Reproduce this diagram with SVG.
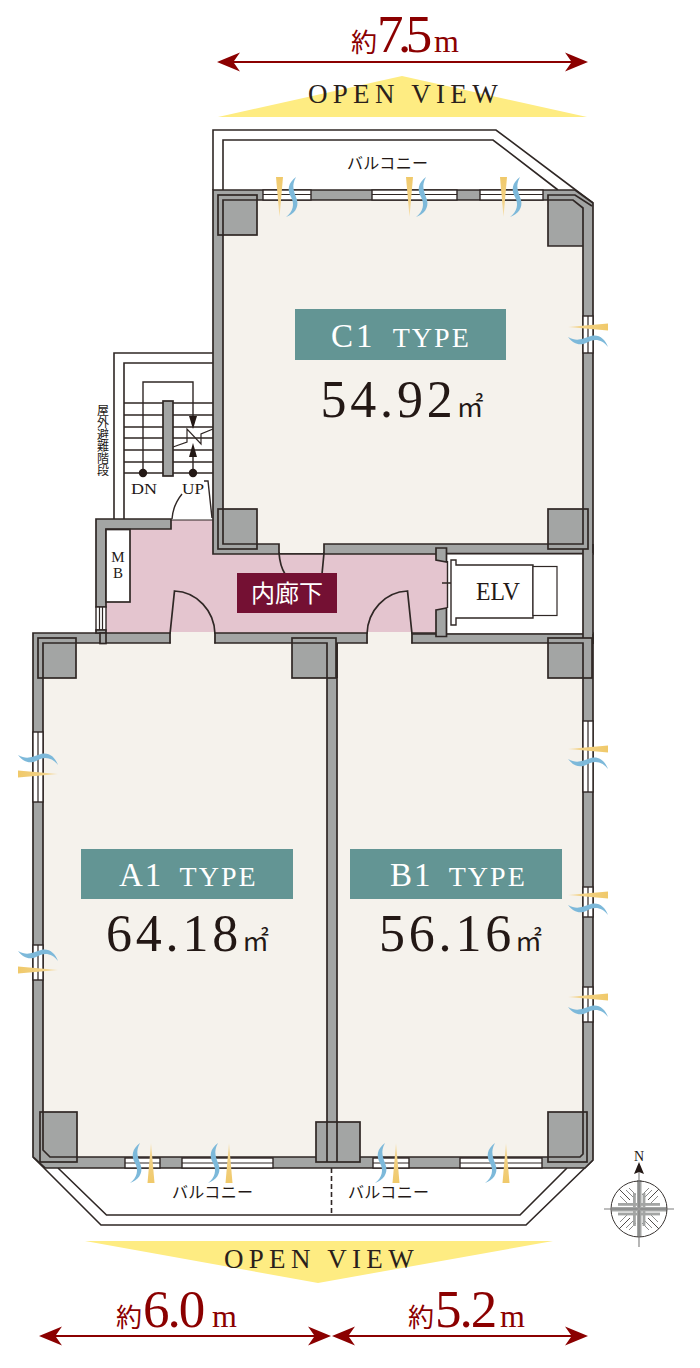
<svg xmlns="http://www.w3.org/2000/svg" xmlns:xlink="http://www.w3.org/1999/xlink" width="700" height="1368" viewBox="0 0 700 1368">
<style>
.w{fill:#a3a5a4;stroke:#2f2725;stroke-width:1.7;stroke-linejoin:miter}
.wf{fill:#a3a5a4}
.l{fill:none;stroke:#2f2725;stroke-width:1.7}
.t{fill:none;stroke:#2f2725;stroke-width:1.2}
.f{fill:#f5f2ec;stroke:#2f2725;stroke-width:1.7}
.win{fill:#fff;stroke:#2f2725;stroke-width:1.4}
.wh{fill:#fff;stroke:#2f2725;stroke-width:1.7}
text{font-family:"Liberation Serif","Noto Sans CJK JP",serif}
.dim{fill:#8b0000;font-size:26px}
.dn{font-size:53px}
.dm{font-size:32px}
.ov{fill:#2a1f1c;font-size:27px;letter-spacing:5.300px}
.ty{fill:#fff;font-size:33px}
.ty2{font-size:28px}
.ar{fill:#231815;font-size:52px;letter-spacing:3.800px}
.ms{font-size:27px;letter-spacing:0;font-family:"Noto Sans CJK JP",sans-serif}
.bal{font-family:"Noto Sans CJK JP",sans-serif;font-size:16px;fill:#231815}
.sm{font-size:15px;fill:#231815}
.arr{fill:#8b0000}
.b{fill:#7db9da}
.cg{fill:#a3a5a4}
</style>
<defs>
<linearGradient id="gy" x1="0" y1="0" x2="0" y2="1"><stop offset="0" stop-color="#f0c96a"/><stop offset="0.6" stop-color="#f2d184"/><stop offset="1" stop-color="#f5e0b0"/></linearGradient>
<polygon id="wy" points="-3.500,0 3.500,0 0,40" fill="url(#gy)"/>
<path id="wb" d="M4,0C-4,6 -5,13 -1,20C3,27 1,35 -6,40C2,37 7,31 5,23C2,14 -1,9 4,0Z"/>
</defs>

<g id="open-view-top"><polygon points="218,117 402,76 587,117" fill="#feec82"/>
<text class="ov" x="308" y="103">OPEN VIEW</text></g>
<g id="open-view-bottom"><polygon points="85,1241 553,1241 318,1283" fill="#feec82"/>
<text class="ov" x="224" y="1268">OPEN VIEW</text></g>

<g id="balcony-top">
<path class="t" style="stroke-width:1.6" d="M213,190V130H496L593,203M223,190V140H493L558,190"/>
<text class="bal" x="347" y="169" textLength="81">バルコニー</text>
</g>
<g id="balcony-bottom">
<path class="t" style="stroke-width:1.6" d="M33,1157L101,1225H526L593,1160M58,1168L106.500,1215H520L567,1168"/>
<path d="M331.500,1168V1215" fill="none" stroke="#2f2725" stroke-width="1.6" stroke-dasharray="5 3"/>
<text class="bal" x="172" y="1198" textLength="81">バルコニー</text>
<text class="bal" x="348" y="1198" textLength="81">バルコニー</text>
</g>

<g id="stairs">
<path class="t" style="stroke-width:1.6" d="M114,519V353H213M124,519V363H213"/>
<path class="t" style="stroke-width:1.3" d="M124,403H213M124,415H213M124,427H213M124,438H213M124,450H213M124,462H213M124,473H213"/>
<path class="l" style="stroke-width:1.4" d="M143,473V382H193V420M193,473V450"/>
<rect class="w" x="163" y="401" width="10" height="75"/>
<circle cx="143" cy="473" r="4.200" fill="#231815"/><circle cx="193" cy="473" r="4.200" fill="#231815"/>
<polygon points="189,416 197,416 193,429" fill="#231815"/><polygon points="189,457 197,457 193,443" fill="#231815"/>
<polyline class="t" points="173,447 187,442 187,429 201,444 201,434 213,429"/>
<text class="sm" x="131" y="494" textLength="26" lengthAdjust="spacingAndGlyphs">DN</text>
<text class="sm" x="182" y="494" textLength="22" lengthAdjust="spacingAndGlyphs">UP</text>
<text x="103" y="404" font-size="12" fill="#231815" style="writing-mode:vertical-rl;font-family:'Noto Sans CJK JP',sans-serif">屋外避難階段</text>
</g>

<g id="elv-hall"><rect x="446" y="553" width="138" height="81" fill="#fff"/></g>
<g id="corridor">
<polygon points="106,529 171,529 171,520 213,520 213,553 447,553 447,634 106,634" fill="#e4c5cf"/>
<path class="t" d="M171,520H213"/>
</g>

<g id="room-c1">
<polygon class="w" points="213,190 575,190 593,203 593,554 213,554"/>
<polygon class="f" points="223,200 573,200 583,208 583,544 324,544 324,553 279,553 279,544 223,544"/>
</g>
<g id="room-ab">
<polygon class="w" points="33,633 593,633 593,1160 585,1168 45,1168 33,1157"/>
<polygon class="f" points="43,643 327,643 327,1157 43,1157"/>
<polygon class="f" points="337,643 583,643 583,1157 337,1157"/>
<rect x="170.800" y="632" width="43.400" height="12.500" fill="#f5f2ec"/>
<rect x="367.800" y="632" width="43.400" height="12.500" fill="#f5f2ec"/>
<path class="l" d="M170,633.500V643.500M215,633.500V643.500M367,633.500V643.500M412,633.500V643.500"/>
<rect x="280" y="542" width="43" height="11" fill="#f5f2ec"/>
</g>
<g id="elv-patch"><rect x="447" y="554.500" width="136" height="79" fill="#fff"/><rect class="wf" x="583" y="553" width="10" height="81"/><path class="l" d="M583,544V644M593,544V644M412,634H583M447,553.500H583"/></g>

<g id="corridor-walls">
<polygon class="w" points="96,519 171,519 171,529 106,529 106,607 96,607"/>
<rect class="win" x="96" y="607" width="10" height="23"/>
<path class="t" d="M99.500,607V630M102.500,607V630"/>
<polygon class="w" points="96,630 106,630 106,633 96,633"/>
<rect class="w" x="100" y="633" width="6" height="10.500"/>
<rect class="wh" x="106" y="529.500" width="24" height="72.500"/>
<polygon class="w" points="436,548 446.500,548 446.500,562 436,560"/>
<polygon class="w" points="436,610 446.500,608 446.500,636.500 436,636.500"/>
</g>

<g id="doors">
<path class="l" d="M170,634L174.500,591A42,44 0 0 1 215,634"/>
<path class="l" d="M412,634L407.500,591A42,44 0 0 0 367,634"/>
<path class="l" d="M279,553Q280,566 285,574M324,553L322,574"/>
<path class="l" style="stroke-width:1.4" d="M172,519Q173,505 182,494M212,518L208,481H204"/>
</g>

<g id="elevator">
<path class="l" style="stroke-width:1.4" d="M447.500,561V608M442,583H452"/>
<polygon class="wh" style="stroke-width:1.4" points="451,560 456,560 456,565 533,565 533,618 456,618 456,625 451,625"/>
<rect class="wh" style="stroke-width:1.2" x="533" y="566.500" width="24" height="49"/>
<text x="476" y="600" font-size="25" fill="#231815" textLength="44" lengthAdjust="spacingAndGlyphs">ELV</text>
</g>
<g id="mb"><text class="sm" x="118" y="562" text-anchor="middle" font-size="14">M</text><text class="sm" x="118" y="578" text-anchor="middle" font-size="14">B</text></g>

<g id="windows">
<rect class="win" x="263" y="190" width="48" height="10"/><rect class="win" x="372" y="190" width="85" height="10"/><rect class="win" x="480" y="190" width="63" height="10"/>
<rect class="win" x="125" y="1158" width="35" height="10"/><rect class="win" x="182" y="1158" width="91" height="10"/>
<rect class="win" x="373" y="1158" width="36" height="10"/><rect class="win" x="460" y="1158" width="82" height="10"/>
<rect class="win" x="33" y="732" width="10" height="70"/><rect class="win" x="33" y="945" width="10" height="35"/>
<rect class="win" x="583" y="316" width="10" height="37"/><rect class="win" x="583" y="721" width="10" height="71"/><rect class="win" x="583" y="887" width="10" height="30"/><rect class="win" x="583" y="987" width="10" height="35"/>
<path class="t" d="M263,194.500H311M372,194.500H457M480,194.500H543M125,1163H160M182,1163H273M373,1163H409M460,1163H542M38,732V802M38,945V980M588,316V353M588,721V792M588,887V917M588,987V1022"/>
</g>

<g id="columns">
<rect class="w" x="218" y="195" width="39" height="40"/>
<polygon class="wf" points="548,195 575,195 592,206 592,246 548,246"/>
<path class="l" d="M583,246H548V195H575L592,206"/>
<rect class="w" x="218" y="509" width="39" height="40"/>
<rect class="w" x="548" y="509" width="40" height="40"/>
<rect class="w" x="38" y="638" width="38" height="40"/>
<rect class="w" x="292" y="638" width="44" height="40"/>
<rect class="w" x="548" y="638" width="44" height="40"/>
<rect class="w" x="40" y="1112" width="37" height="50"/>
<rect class="w" x="316" y="1122" width="44" height="40"/>
<rect class="w" x="548" y="1112" width="39" height="50"/>
<path class="l" d="M223,236V200H257M548,200H573L583,208V246M223,509V544H257M548,544H583V509M43,678V643H76M292,643H327V678M337,678V643M548,643H583V678M43,1112V1150L50,1157H77M327,1122V1162M337,1122V1162M548,1157H580L583,1154V1112"/>
</g>

<g id="airflow">
<g>
<use xlink:href="#wy" x="279.500" y="177"/><use xlink:href="#wy" x="409.500" y="177"/><use xlink:href="#wy" x="503.500" y="177"/>
<use xlink:href="#wy" transform="translate(151,1183) rotate(180)"/><use xlink:href="#wy" transform="translate(229,1183) rotate(180)"/><use xlink:href="#wy" transform="translate(396,1183) rotate(180)"/><use xlink:href="#wy" transform="translate(506,1183) rotate(180)"/>
<use xlink:href="#wy" transform="translate(18,774) rotate(-90)"/><use xlink:href="#wy" transform="translate(18,970) rotate(-90)"/>
<use xlink:href="#wy" transform="translate(608,327) rotate(90)"/><use xlink:href="#wy" transform="translate(608,749) rotate(90)"/><use xlink:href="#wy" transform="translate(608,895) rotate(90)"/><use xlink:href="#wy" transform="translate(608,997) rotate(90)"/>
</g>
<g class="b">
<use xlink:href="#wb" x="292" y="177"/><use xlink:href="#wb" x="422" y="177"/><use xlink:href="#wb" x="516" y="177"/>
<use xlink:href="#wb" x="136" y="1143"/><use xlink:href="#wb" x="214" y="1143"/><use xlink:href="#wb" x="381" y="1143"/><use xlink:href="#wb" x="491" y="1143"/>
<use xlink:href="#wb" transform="translate(18,759) rotate(-90)"/><use xlink:href="#wb" transform="translate(18,955) rotate(-90)"/>
<use xlink:href="#wb" transform="translate(568,341) rotate(-90)"/><use xlink:href="#wb" transform="translate(568,763) rotate(-90)"/><use xlink:href="#wb" transform="translate(568,909) rotate(-90)"/><use xlink:href="#wb" transform="translate(568,1011) rotate(-90)"/>
</g>
</g>

<g id="label-corridor"><rect x="237" y="573" width="100" height="40" fill="#741033"/>
<text x="287" y="602" font-size="24" fill="#fff" text-anchor="middle" style="font-family:'Noto Sans CJK JP',sans-serif">内廊下</text></g>

<g id="label-c1"><rect x="295" y="309" width="211" height="51" fill="#639594"/>
<text class="ty" x="331" y="347" letter-spacing="3">C1 <tspan class="ty2" dx="6" letter-spacing="2">TYPE</tspan></text>
<text class="ar" x="320.500" y="417">54.92<tspan class="ms">㎡</tspan></text></g>
<g id="label-a1"><rect x="81" y="849" width="212" height="50" fill="#639594"/>
<text class="ty" x="119" y="886" letter-spacing="2">A1 <tspan class="ty2" dx="6" letter-spacing="2">TYPE</tspan></text>
<text class="ar" x="106" y="951">64.18<tspan class="ms">㎡</tspan></text></g>
<g id="label-b1"><rect x="350" y="849" width="212" height="50" fill="#639594"/>
<text class="ty" x="390" y="886" letter-spacing="2">B1 <tspan class="ty2" dx="6" letter-spacing="2">TYPE</tspan></text>
<text class="ar" x="379" y="951">56.16<tspan class="ms">㎡</tspan></text></g>

<g id="dimensions">
<path class="arr" d="M217,62L240,52.500L234,61H571L565,52.500L588,62L565,71.500L571,63H234L240,71.500Z"/>
<path class="arr" d="M39,1336L62,1326.500L56,1335H314L308,1326.500L331,1336L308,1345.500L314,1337H56L62,1345.500Z"/>
<path class="arr" d="M332,1336L355,1326.500L349,1335H571L565,1326.500L588,1336L565,1345.500L571,1337H349L355,1345.500Z"/>
<text class="dim" y="52"><tspan x="351">約</tspan><tspan class="dn" x="377" letter-spacing="-5.500">7.5</tspan><tspan class="dm" x="434">m</tspan></text>
<text class="dim" y="1327"><tspan x="116">約</tspan><tspan class="dn" x="143" letter-spacing="-2">6.0</tspan><tspan class="dm" x="212">m</tspan></text>
<text class="dim" y="1327"><tspan x="408">約</tspan><tspan class="dn" x="435" letter-spacing="-2">5.2</tspan><tspan class="dm" x="500">m</tspan></text>
</g>

<g id="compass">
<path fill="none" stroke="#3a3533" stroke-width="0.9" d="M619,1189L630,1200M659,1189L648,1200M619,1229L630,1218M659,1229L648,1218"/>
<path fill="none" stroke="#8a8a8a" stroke-width="1" d="M626,1190L634,1198M629,1188L636,1195M652,1190L644,1198M649,1188L642,1195M626,1228L634,1220M629,1230L636,1223M652,1228L644,1220M649,1230L642,1223M620,1196L628,1204M658,1196L650,1204M620,1222L628,1214M658,1222L650,1214"/>
<rect class="cg" x="637" y="1180" width="4.500" height="57"/>
<rect class="cg" x="633" y="1193" width="2.800" height="33"/>
<rect class="cg" x="642.600" y="1193" width="2.800" height="33"/>
<rect class="cg" x="612" y="1207" width="55" height="4.500"/>
<rect class="cg" x="618" y="1203" width="42" height="2.800"/>
<rect class="cg" x="618" y="1212.600" width="42" height="2.800"/>
<circle cx="639" cy="1209" r="1.200" fill="#fff"/>
<circle cx="639" cy="1209" r="28" fill="none" stroke="#3a3533" stroke-width="1"/>
<path fill="none" stroke="#7c7c7c" stroke-width="1.100" d="M604,1209H674M639,1172V1247"/>
<polygon points="639,1162 644,1174 639,1172 634,1174" fill="#231815"/>
<text x="639" y="1161" font-size="14" fill="#231815" text-anchor="middle">N</text>
</g>
</svg>
